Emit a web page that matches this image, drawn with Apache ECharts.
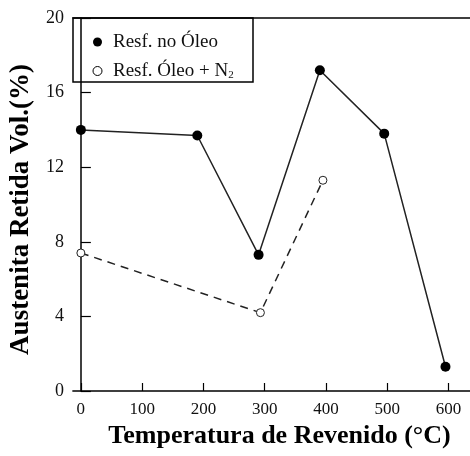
<!DOCTYPE html>
<html>
<head>
<meta charset="utf-8">
<script src="https://cdn.jsdelivr.net/npm/echarts@6/dist/echarts.min.js"></script>
<style>html,body{margin:0;padding:0;background:#fff}#c{width:470px;height:456px}</style>
</head>
<body>
<div id="c"></div>
<script>
const xTicks = [0, 100, 200, 300, 400, 500, 600];
const oilTemps = [0, 190, 290, 390, 495, 595];
const oilValues = [14.0, 13.7, 7.3, 17.2, 13.8, 1.3];
const oilN2Temps = [0, 293, 395];
const oilN2Values = [7.4, 4.2, 11.3];
const seriesNames = ['Resf. no Óleo', 'Resf. Óleo + N₂'];
const xTitle = 'Temperatura de Revenido (°C)';
const yTitle = 'Austenita Retida Vol.(%)';

const font = "'Liberation Serif', 'DejaVu Serif', serif";
const chart = echarts.init(document.getElementById('c'));
chart.setOption({
  animation: false,
  backgroundColor: '#fff',
  grid: { left: 72, right: 0, top: 18, bottom: 65 },
  legend: {
    orient: 'vertical', left: 87.5, top: 27, itemGap: 9, padding: 5,
    itemWidth: 9, itemHeight: 9,
    textStyle: { fontFamily: font, fontSize: 19, lineHeight: 20, color: '#111', padding: [0, 0, 0, 6],
      rich: { sub: { fontFamily: font, fontSize: 11, lineHeight: 20, color: '#111', padding: [8, 0, 0, 0] } } },
    formatter: function (n) { return n === seriesNames[1] ? 'Resf. Óleo + N{sub|2}' : n; },
    data: [
      { name: seriesNames[0], icon: 'circle', itemStyle: { color: '#000', borderWidth: 0 } },
      { name: seriesNames[1], icon: 'circle', itemStyle: { color: '#fff', borderColor: '#000', borderWidth: 1 } }
    ]
  },
  graphic: [{ type: 'rect', shape: { x: 73, y: 18, width: 180, height: 64 },
    style: { fill: 'none', stroke: '#000', lineWidth: 1.5 }, z: 100 }],
  xAxis: [{
    type: 'value', min: -13, max: 635,
    name: xTitle, nameLocation: 'middle', nameGap: 31,
    nameTextStyle: { fontFamily: font, fontSize: 26, fontWeight: 'bold', color: '#000', padding: [0, 0, 0, 16] },
    axisLine: { lineStyle: { color: '#000', width: 1.5 } },
    axisTick: { inside: true, length: 8, lineStyle: { color: '#000', width: 1.2 }, customValues: xTicks },
    axisLabel: { fontFamily: font, fontSize: 17, color: '#111', margin: 10, customValues: xTicks },
    splitLine: { show: false }
  }, {
    type: 'value', position: 'top', min: -13, max: 635,
    axisLine: { show: true, onZero: false, lineStyle: { color: '#000', width: 1.5 } },
    axisTick: { show: false }, axisLabel: { show: false }, splitLine: { show: false }
  }],
  yAxis: {
    type: 'value', min: 0, max: 20, interval: 4,
    name: yTitle, nameLocation: 'middle', nameGap: 34,
    nameTextStyle: { fontFamily: font, fontSize: 27, fontWeight: 'bold', color: '#000', padding: [0, 10, 0, 0] },
    axisLine: { show: true, lineStyle: { color: '#000', width: 1.5 } },
    axisTick: { show: true, inside: true, length: 10, lineStyle: { color: '#000', width: 1.2 } },
    axisLabel: { fontFamily: font, fontSize: 18, color: '#111', margin: 9 },
    splitLine: { show: false }
  },
  series: [{
    name: seriesNames[0], type: 'line',
    data: oilTemps.map((t, i) => [t, oilValues[i]]),
    symbol: 'circle', symbolSize: 10,
    itemStyle: { color: '#000' },
    lineStyle: { color: '#222', width: 1.5 }
  }, {
    name: seriesNames[1], type: 'line',
    data: oilN2Temps.map((t, i) => [t, oilN2Values[i]]),
    symbol: 'circle', symbolSize: 8,
    itemStyle: { color: '#fff', borderColor: '#222', borderWidth: 1 },
    lineStyle: { color: '#222', width: 1.5, type: [8, 6] }
  }]
});
</script>
</body>
</html>
